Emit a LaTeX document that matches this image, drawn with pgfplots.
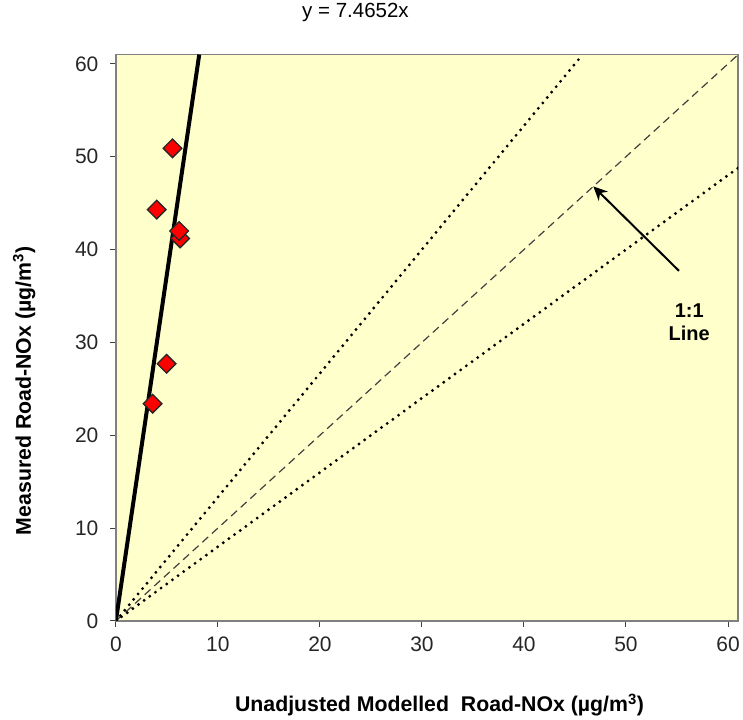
\documentclass[border=0pt]{standalone}
\usepackage{fontspec}
\setmainfont{Liberation Sans}
\usepackage{pgfplots}
\pgfplotsset{compat=1.18}
\usetikzlibrary{arrows.meta}
\definecolor{bg}{HTML}{FFFFCC}
\definecolor{frame}{HTML}{808080}
\begin{document}
\begin{tikzpicture}
\begin{axis}[
  scale only axis, width=623pt, height=567pt,
  xmin=0, xmax=61, ymin=0, ymax=61,
  xtick={0,10,...,60}, ytick={0,10,...,60},
  axis background/.style={fill=bg},
  axis line style={draw=frame, line width=1.5pt},
  tick style={draw=black!75, line width=1pt},
  tick align=outside, major tick length=6pt, tick pos=left,
  ticklabel style={font=\fontsize{21}{24}\selectfont, text=black!85},
  /pgf/number format/assume math mode=true,
  xticklabel style={yshift=-6pt},
  yticklabel style={xshift=-8pt},
  xlabel={Unadjusted Modelled\ \ Road-NOx (µg/m\textsuperscript{3})},
  ylabel={Measured Road-NOx (µg/m\textsuperscript{3})},
  label style={font=\bfseries\fontsize{21.3}{24}\selectfont},
  xlabel style={at={(axis description cs:0.52,-0.1605)}, anchor=base},
  ylabel style={at={(axis description cs:-0.1364,0.406)}, anchor=base, rotate=0},
  title={y = 7.4652x},
  title style={at={(axis description cs:0.385,1.0635)}, anchor=center, font=\fontsize{20.5}{24}\selectfont},
]
% 1:1 line
\addplot[draw=black!75, line width=1.2pt, dash pattern=on 8pt off 5pt] coordinates {(0,0) (61,61)};
% +/- 25% lines
\addplot[black, line width=3.2pt, dash pattern=on 0pt off 7pt, line cap=round] coordinates {(0,0) (45.75,61)};
\addplot[black, line width=3.2pt, dash pattern=on 0pt off 7pt, line cap=round] coordinates {(0,0) (61,48.8)};
% regression
\addplot[black, line width=4pt] coordinates {(0,0) (8.1713,61)};
% data
\addplot[only marks, mark=square*, mark size=6.6pt, mark options={rotate=45, fill=red, draw=black!85, line width=1.3pt}]
  coordinates {(5.55,50.9) (4.0,44.3) (6.3,41.2) (6.2,42.0) (4.97,27.7) (3.6,23.4)};
\draw[-{Stealth[length=14pt,width=13pt]}, line width=2pt] (axis cs:55.2,37.7) -- (axis cs:46.8,46.8);
\node[align=center, font=\bfseries\fontsize{20}{23}\selectfont] at (axis cs:56.2,32.2) {1:1\\Line};
\end{axis}
\path ([shift={(-116pt,-99pt)}]current axis.south west) rectangle ([shift={(4pt,51pt)}]current axis.north east);
\end{tikzpicture}
\end{document}
